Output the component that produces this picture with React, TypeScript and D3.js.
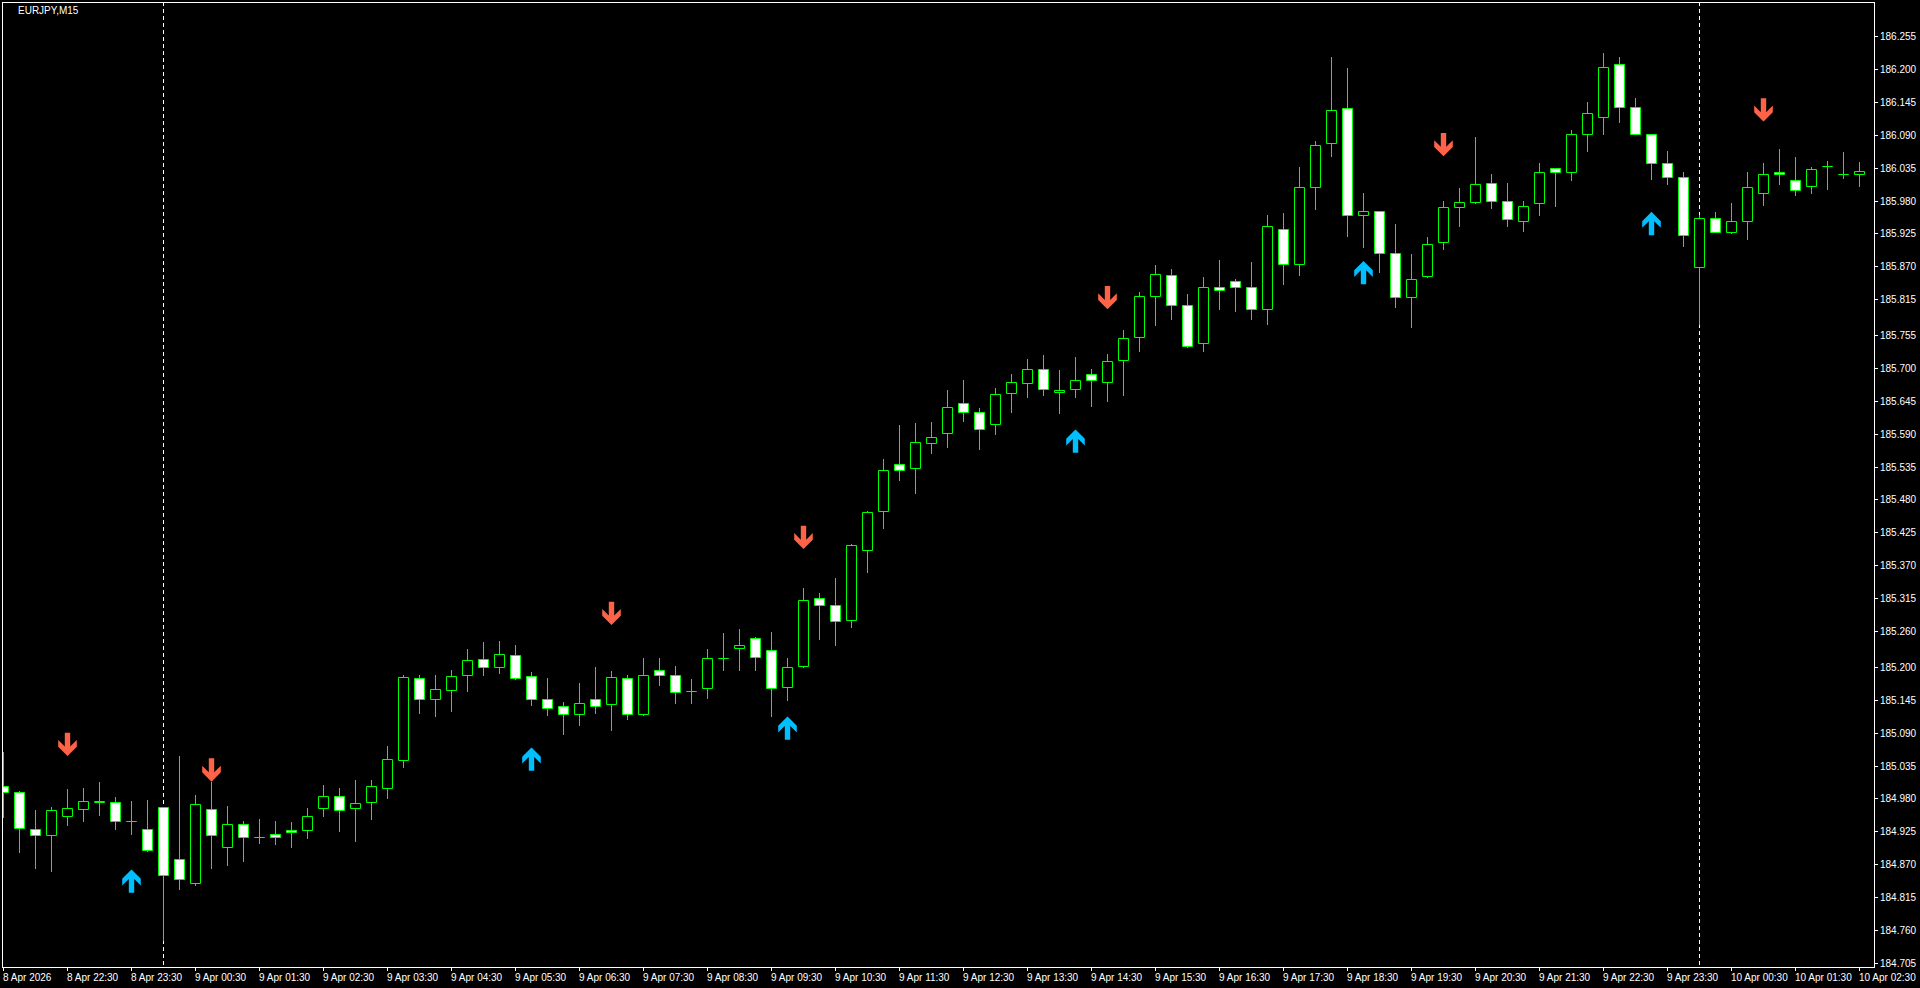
import React from 'react';
import * as d3 from 'd3';

// EURJPY M15 bars, 8 Apr 21:30 .. 10 Apr 02:30
const opens = [
  185.001, 184.990, 184.928, 184.918, 184.950, 184.962, 184.974, 184.974, 184.942, 184.928,
  184.965, 184.878, 184.838, 184.962, 184.898, 184.937, 184.915, 184.920, 184.927, 184.927,
  184.964, 184.984, 184.964, 184.974, 184.997, 185.044, 185.181, 185.146, 185.161, 185.186,
  185.213, 185.199, 185.219, 185.184, 185.146, 185.134, 185.121, 185.146, 185.138, 185.181,
  185.121, 185.194, 185.186, 185.160, 185.164, 185.215, 185.231, 185.248, 185.229, 185.166,
  185.201, 185.316, 185.303, 185.278, 185.395, 185.460, 185.539, 185.532, 185.574, 185.591,
  185.642, 185.627, 185.607, 185.658, 185.675, 185.699, 185.659, 185.664, 185.689, 185.677,
  185.713, 185.751, 185.821, 185.855, 185.806, 185.741, 185.836, 185.846, 185.835, 185.798,
  185.932, 185.873, 186.002, 186.077, 186.134, 185.955, 185.962, 185.893, 185.818, 185.853,
  185.910, 185.969, 185.978, 186.009, 185.979, 185.945, 185.975, 186.034, 186.027, 186.092,
  186.119, 186.209, 186.137, 186.092, 186.042, 186.020, 185.869, 185.950, 185.928, 185.945,
  185.992, 186.027, 186.015, 186.005, 186.037, 186.025, 186.025,
];
const highs = [
  185.058, 184.993, 184.961, 184.966, 184.996, 184.998, 185.008, 184.983, 184.976, 184.977,
  184.966, 185.051, 184.985, 185.008, 184.967, 184.942, 184.946, 184.942, 184.941, 184.964,
  185.003, 184.998, 185.011, 185.011, 185.068, 185.186, 185.186, 185.186, 185.195, 185.230,
  185.242, 185.243, 185.237, 185.191, 185.181, 185.141, 185.173, 185.199, 185.193, 185.186,
  185.214, 185.215, 185.202, 185.180, 185.230, 185.257, 185.263, 185.250, 185.258, 185.215,
  185.332, 185.323, 185.349, 185.406, 185.461, 185.548, 185.605, 185.608, 185.610, 185.663,
  185.680, 185.633, 185.666, 185.690, 185.715, 185.722, 185.697, 185.718, 185.698, 185.723,
  185.763, 185.827, 185.872, 185.865, 185.824, 185.852, 185.880, 185.849, 185.877, 185.955,
  185.959, 186.036, 186.079, 186.220, 186.201, 185.992, 185.962, 185.941, 185.890, 185.919,
  185.979, 186.001, 186.086, 186.024, 186.009, 185.979, 186.043, 186.034, 186.098, 186.145,
  186.227, 186.220, 186.151, 186.092, 186.063, 186.028, 185.955, 185.961, 185.976, 186.028,
  186.043, 186.066, 186.053, 186.036, 186.046, 186.061, 186.044,
];
const lows = [
  184.949, 184.891, 184.863, 184.859, 184.936, 184.943, 184.953, 184.929, 184.921, 184.892,
  184.743, 184.829, 184.835, 184.864, 184.869, 184.876, 184.906, 184.903, 184.899, 184.913,
  184.950, 184.925, 184.908, 184.946, 184.980, 185.032, 185.122, 185.117, 185.127, 185.160,
  185.187, 185.190, 185.180, 185.137, 185.120, 185.088, 185.103, 185.123, 185.095, 185.112,
  185.119, 185.170, 185.139, 185.139, 185.148, 185.195, 185.194, 185.195, 185.118, 185.144,
  185.199, 185.247, 185.237, 185.266, 185.358, 185.433, 185.513, 185.491, 185.558, 185.567,
  185.611, 185.565, 185.590, 185.627, 185.652, 185.654, 185.625, 185.652, 185.637, 185.645,
  185.655, 185.729, 185.771, 185.782, 185.735, 185.729, 185.799, 185.796, 185.781, 185.774,
  185.841, 185.856, 185.965, 186.055, 185.921, 185.903, 185.861, 185.802, 185.769, 185.852,
  185.899, 185.938, 185.975, 185.968, 185.938, 185.929, 185.955, 185.970, 186.015, 186.062,
  186.092, 186.112, 186.092, 186.016, 186.008, 185.904, 185.773, 185.928, 185.925, 185.916,
  185.973, 186.008, 185.990, 185.993, 186.000, 186.018, 186.005,
];
const closes = [
  184.990, 184.930, 184.918, 184.960, 184.964, 184.975, 184.976, 184.942, 184.942, 184.893,
  184.852, 184.845, 184.970, 184.919, 184.937, 184.915, 184.915, 184.915, 184.923, 184.950,
  184.984, 184.960, 184.972, 185.000, 185.046, 185.183, 185.146, 185.163, 185.184, 185.211,
  185.199, 185.221, 185.181, 185.146, 185.131, 185.121, 185.139, 185.134, 185.183, 185.121,
  185.186, 185.186, 185.158, 185.160, 185.214, 185.215, 185.236, 185.216, 185.164, 185.199,
  185.311, 185.303, 185.276, 185.403, 185.459, 185.529, 185.530, 185.576, 185.584, 185.634,
  185.627, 185.597, 185.656, 185.676, 185.698, 185.664, 185.663, 185.679, 185.679, 185.711,
  185.750, 185.820, 185.857, 185.806, 185.736, 185.836, 185.831, 185.836, 185.798, 185.938,
  185.873, 186.002, 186.072, 186.132, 185.955, 185.962, 185.893, 185.818, 185.848, 185.908,
  185.969, 185.977, 186.007, 185.979, 185.949, 185.970, 186.027, 186.027, 186.092, 186.127,
  186.204, 186.136, 186.092, 186.042, 186.020, 185.923, 185.950, 185.928, 185.945, 186.002,
  186.025, 186.024, 185.997, 186.032, 186.037, 186.024, 186.029,
];

// time axis labels, one every 4 bars
const timeLabels = [
  '8 Apr 2026', '8 Apr 22:30', '8 Apr 23:30', '9 Apr 00:30', '9 Apr 01:30', '9 Apr 02:30',
  '9 Apr 03:30', '9 Apr 04:30', '9 Apr 05:30', '9 Apr 06:30', '9 Apr 07:30', '9 Apr 08:30',
  '9 Apr 09:30', '9 Apr 10:30', '9 Apr 11:30', '9 Apr 12:30', '9 Apr 13:30', '9 Apr 14:30',
  '9 Apr 15:30', '9 Apr 16:30', '9 Apr 17:30', '9 Apr 18:30', '9 Apr 19:30', '9 Apr 20:30',
  '9 Apr 21:30', '9 Apr 22:30', '9 Apr 23:30', '10 Apr 00:30', '10 Apr 01:30', '10 Apr 02:30',
];
const priceLabels = [
  '186.255', '186.200', '186.145', '186.090', '186.035', '185.980', '185.925', '185.870',
  '185.815', '185.755', '185.700', '185.645', '185.590', '185.535', '185.480', '185.425',
  '185.370', '185.315', '185.260', '185.200', '185.145', '185.090', '185.035', '184.980',
  '184.925', '184.870', '184.815', '184.760', '184.705',
];

// day separators (bar index of 00:00)
const dayBreakBars = [10, 106];

// signal arrows
const downArrowBars = [4, 13, 38, 50, 69, 90, 110];
const downArrowPrices = [185.051, 185.008, 185.270, 185.397, 185.798, 186.054, 186.112];
const upArrowBars = [8, 33, 49, 67, 85, 103];
const upArrowPrices = [184.861, 185.065, 185.117, 185.597, 185.879, 185.961];

const W = 1920;
const H = 988;
const plot = { left: 2, top: 2, right: 1874, bottom: 967 };
const FONT = '"Liberation Sans", Arial, sans-serif';
const LIME = '#00ff00';

// arrow outline with its tip at (0,0), pointing down
const arrowDown = 'M0,0L-9.3,-9.3L-9.3,-16L-2.7,-9.4L-2.7,-23.3L2.7,-23.3L2.7,-9.4L9.3,-16L9.3,-9.3Z';
const arrowUp = 'M0,0L-9.3,9.3L-9.3,16L-2.7,9.4L-2.7,23.3L2.7,23.3L2.7,9.4L9.3,16L9.3,9.3Z';

export default function App() {
  const x = d3.scaleLinear().domain([0, 116]).range([3, 1859]);
  const y = d3.scaleLinear().domain([184.698, 186.312]).range([plot.bottom, plot.top]);
  const py = (v: number) => Math.round(y(v));

  const bars = d3.range(opens.length).map(i => ({
    i, o: opens[i], h: highs[i], l: lows[i], c: closes[i],
  }));

  return (
    <div style={{ position: 'absolute', left: 0, top: 0, width: W, height: H, background: '#000' }}>
      <svg width={W} height={H} style={{ display: 'block' }}>
        <defs>
          <clipPath id="plotClip">
            <rect x={plot.left + 1} y={plot.top + 1} width={plot.right - plot.left - 1} height={plot.bottom - plot.top - 1} />
          </clipPath>
        </defs>
        <rect width={W} height={H} fill="#000" />

        <g clipPath="url(#plotClip)">
          {dayBreakBars.map(b => (
            <line key={b} x1={Math.round(x(b)) + 0.5} x2={Math.round(x(b)) + 0.5} y1={plot.top} y2={plot.bottom}
              stroke="#fff" strokeWidth={1} strokeDasharray="4,3" />
          ))}

          {bars.map(d => {
            const cx = Math.round(x(d.i));
            const top = py(Math.max(d.o, d.c));
            const bot = py(Math.min(d.o, d.c));
            const fill = d.c > d.o ? '#000' : '#fff';
            return (
              <g key={d.i}>
                <path d={`M${cx + 0.5},${py(d.h)}V${py(d.l) + 1}`} stroke={LIME} strokeWidth={1} />
                <path d={`M${cx - 4.5},${top + 0.5}H${cx + 5.5}V${bot + 0.5}H${cx - 4.5}Z`}
                  fill={fill} stroke={LIME} strokeWidth={1} />
              </g>
            );
          })}

          {downArrowBars.map((b, k) => (
            <path key={'d' + b} d={arrowDown} fill="#ff6347"
              transform={`translate(${Math.round(x(b)) + 0.5},${y(downArrowPrices[k])})`} />
          ))}
          {upArrowBars.map((b, k) => (
            <path key={'u' + b} d={arrowUp} fill="#00bfff"
              transform={`translate(${Math.round(x(b)) + 0.5},${y(upArrowPrices[k])})`} />
          ))}
        </g>

        <rect x={plot.left + 0.5} y={plot.top + 0.5} width={plot.right - plot.left} height={plot.bottom - plot.top}
          fill="none" stroke="#fff" strokeWidth={1} />

        {priceLabels.map(p => {
          const ty = py(+p);
          return (
            <g key={p}>
              <line x1={plot.right} x2={plot.right + 4} y1={ty + 0.5} y2={ty + 0.5} stroke="#fff" />
              <text x={1880} y={ty + 4} fill="#fff" fontFamily={FONT} fontSize={10}>{p}</text>
            </g>
          );
        })}

        {timeLabels.map((t, k) => {
          const tx = Math.round(x(k * 4));
          return (
            <g key={t}>
              <line x1={tx + 0.5} x2={tx + 0.5} y1={plot.bottom} y2={plot.bottom + 4} stroke="#fff" />
              <text x={tx} y={981} fill="#fff" fontFamily={FONT} fontSize={10}>{t}</text>
            </g>
          );
        })}

        <text x={18} y={14} fill="#fff" fontFamily={FONT} fontSize={10}>EURJPY,M15</text>
      </svg>
    </div>
  );
}
